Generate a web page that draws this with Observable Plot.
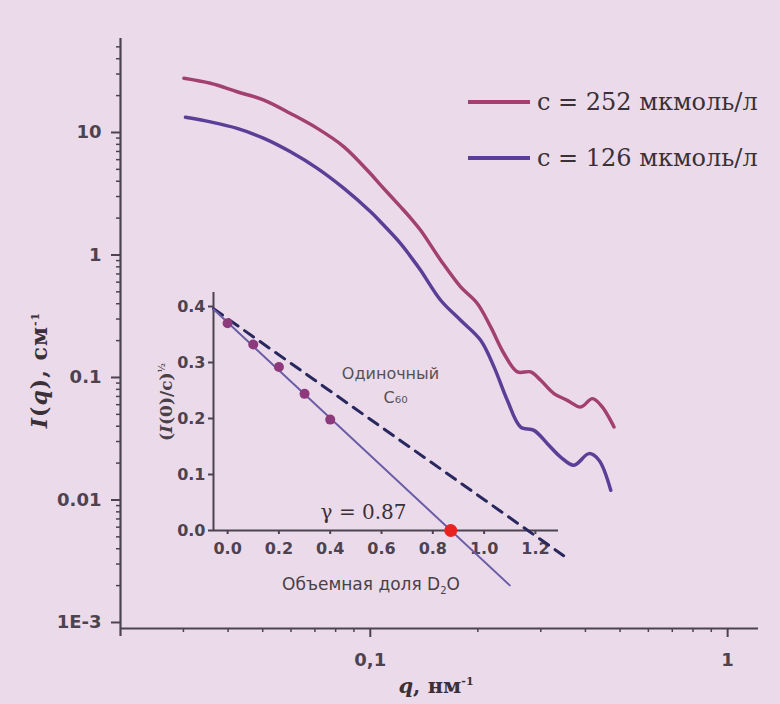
<!DOCTYPE html>
<html>
<head>
<meta charset="utf-8">
<script src="https://cdn.jsdelivr.net/npm/d3@7"></script>
<script src="https://cdn.jsdelivr.net/npm/@observablehq/plot@0.6"></script>
<style>
  html, body { margin: 0; padding: 0; background: #ebdbea; }
  #wrap { position: relative; width: 780px; height: 704px; background: #ebdbea; overflow: hidden; }
  #wrap svg { position: absolute; left: 0; top: 0; }
  .bold-ticks text { font-weight: bold; }
  .lbl { position: absolute; color: #3b3038; white-space: nowrap; }
  .legend-row { position: absolute; display: flex; align-items: center; font-family: "DejaVu Serif", serif; font-size: 24px; color: #3b3038; }
</style>
</head>
<body>
<div id="wrap"></div>
<script>
// ---- main curves: I(q) for two concentrations ----
const seriesLabels = ["c = 252 мкмоль/л", "c = 126 мкмоль/л"];
const seriesColors = ["#a2416f", "#5b3f97"];
const qUpper = [0.0301, 0.0357, 0.0424, 0.0504, 0.0598, 0.0711, 0.0844, 0.1002, 0.1069, 0.1216, 0.1297, 0.1383, 0.1574, 0.1790, 0.1993, 0.2172, 0.2366, 0.2580, 0.2811, 0.2998, 0.3266, 0.3560, 0.3880, 0.4184, 0.4462, 0.4808];
const iUpper = [27.7, 25.2, 21.5, 18.4, 14.3, 10.8, 7.64, 4.6, 3.72, 2.47, 2.0, 1.59, 0.907, 0.549, 0.402, 0.259, 0.157, 0.111, 0.111, 0.0949, 0.0739, 0.0651, 0.0574, 0.0672, 0.0574, 0.0394];
const qLower = [0.0304, 0.0357, 0.0424, 0.0504, 0.0598, 0.0711, 0.0844, 0.1002, 0.1069, 0.1216, 0.1297, 0.1383, 0.1574, 0.1790, 0.2036, 0.2219, 0.2418, 0.2635, 0.2872, 0.3131, 0.3410, 0.3715, 0.4093, 0.4365, 0.4709];
const iLower = [13.3, 12.2, 10.8, 8.95, 6.95, 5.09, 3.49, 2.25, 1.86, 1.24, 0.97, 0.751, 0.427, 0.293, 0.201, 0.122, 0.0651, 0.0394, 0.0370, 0.0288, 0.0224, 0.0192, 0.0239, 0.0211, 0.0120];

// main axes ticks
const yMajorTicks = [0.001, 0.01, 0.1, 1, 10];
const yMajorLabels = ["1E-3", "0.01", "0.1", "1", "10"];
const xMajorTicks = [0.1, 1];
const xMajorLabels = ["0,1", "1"];
const xDomain = [0.02, 1.22];
const yDomain = [0.000893, 58.5];

// ---- inset: contrast variation ----
const d2oFraction = [0.0, 0.1, 0.2, 0.3, 0.4];
const sqrtI0c = [0.370, 0.332, 0.292, 0.244, 0.198];
const matchX = [0.87];
const matchY = [0.0];
const fitSolidX = [-0.055, 1.10];
const fitSolidY = [0.395, -0.098];
const fitDashX = [-0.055, 1.31];
const fitDashY = [0.396, -0.045];
const insetYTicks = [0.0, 0.1, 0.2, 0.3, 0.4];
const insetXTicks = [0.0, 0.2, 0.4, 0.6, 0.8, 1.0, 1.2];
const insetXDomain = [-0.055, 1.29];
const insetYDomain = [0, 0.425];
const annoText = ["Одиночный", "C₆₀"];
const annoX = [0.635, 0.655];
const annoY = [0.28, 0.237];
const gammaText = ["γ = 0.87"];
const gammaX = [0.53];
const gammaY = [0.032];

const axisColor = "#4d4350";
const wrap = document.getElementById("wrap");

// minor ticks for log axes
const yMinor = [];
for (let e = -3; e <= 1; e++) for (let k = 2; k <= 9; k++) { const v = k * Math.pow(10, e); if (v < yDomain[1]) yMinor.push(v); }
const xMinor = [];
for (let e = -2; e <= -1; e++) for (let k = 2; k <= 9; k++) { const v = k * Math.pow(10, e); if (v > xDomain[0] && v < xDomain[1]) xMinor.push(v); }

const upper = qUpper.map((q, i) => ({q, I: iUpper[i]}));
const lower = qLower.map((q, i) => ({q, I: iLower[i]}));
const yLab = new Map(yMajorTicks.map((d, i) => [d, yMajorLabels[i]]));
const xLab = new Map(xMajorTicks.map((d, i) => [d, xMajorLabels[i]]));

const main = Plot.plot({
  width: 780, height: 704,
  marginLeft: 120, marginRight: 22, marginTop: 38, marginBottom: 76,
  style: {background: "transparent", fontFamily: "DejaVu Sans, sans-serif", color: axisColor},
  x: {type: "log", domain: xDomain},
  y: {type: "log", domain: yDomain},
  marks: [
    Plot.axisY(yMinor, {tickSize: 4, tickFormat: () => "", label: null, strokeWidth: 1.5, color: axisColor}),
    Plot.axisY(yMajorTicks, {tickSize: 9, tickPadding: 10, tickFormat: d => yLab.get(d), fontSize: 18, label: null, strokeWidth: 2, color: axisColor}),
    Plot.axisX(xMinor, {tickSize: 4, tickFormat: () => "", label: null, strokeWidth: 1.5, color: axisColor}),
    Plot.axisX(xMajorTicks, {tickSize: 9, tickPadding: 16, tickFormat: d => xLab.get(d), fontSize: 18, label: null, strokeWidth: 2, color: axisColor}),
    Plot.ruleX([xDomain[0]], {stroke: axisColor, strokeWidth: 2.2, insetBottom: -8}),
    Plot.ruleY([yDomain[0]], {stroke: axisColor, strokeWidth: 2.2}),
    Plot.line(upper, {x: "q", y: "I", stroke: seriesColors[0], strokeWidth: 3.5, curve: "catmull-rom"}),
    Plot.line(lower, {x: "q", y: "I", stroke: seriesColors[1], strokeWidth: 3.5, curve: "catmull-rom"})
  ]
});
main.classList.add("bold-ticks");
wrap.appendChild(main);

const pts = d2oFraction.map((x, i) => ({x, y: sqrtI0c[i]}));
const solid = fitSolidX.map((x, i) => ({x, y: fitSolidY[i]}));
const dashed = fitDashX.map((x, i) => ({x, y: fitDashY[i]}));
const match = matchX.map((x, i) => ({x, y: matchY[i]}));
const annos = annoText.map((t, i) => ({t, x: annoX[i], y: annoY[i]}));
const gam = gammaText.map((t, i) => ({t, x: gammaX[i], y: gammaY[i]}));

const inset = Plot.plot({
  width: 780, height: 704,
  marginLeft: 213, marginRight: 222, marginTop: 292, marginBottom: 174,
  style: {background: "transparent", fontFamily: "DejaVu Sans, sans-serif", color: axisColor, overflow: "visible"},
  x: {domain: insetXDomain},
  y: {domain: insetYDomain},
  marks: [
    Plot.axisY(insetYTicks, {tickSize: 5, tickPadding: 3, tickFormat: d => d.toFixed(1), fontSize: 16, label: null, strokeWidth: 2, color: axisColor}),
    Plot.axisX(insetXTicks, {tickSize: 4, tickPadding: 8, tickFormat: d => d.toFixed(1), fontSize: 16, label: null, strokeWidth: 2, color: axisColor}),
    Plot.ruleY([0], {stroke: axisColor, strokeWidth: 2}),
    Plot.ruleX([insetXDomain[0]], {stroke: axisColor, strokeWidth: 2}),
    Plot.line(dashed, {x: "x", y: "y", stroke: "#28285e", strokeWidth: 3, strokeDasharray: "11,8"}),
    Plot.line(solid, {x: "x", y: "y", stroke: "#6b5ca6", strokeWidth: 2}),
    Plot.dot(pts, {x: "x", y: "y", r: 5, fill: "#8d3a7c", stroke: "none"}),
    Plot.dot(match, {x: "x", y: "y", r: 6.5, fill: "#e8231f", stroke: "none"}),
    Plot.text(annos, {x: "x", y: "y", text: "t", fontSize: 16, fill: "#555058"}),
    Plot.text(gam, {x: "x", y: "y", text: "t", fontSize: 20, fontFamily: "DejaVu Serif, serif", fill: "#3b3038"})
  ]
});
inset.classList.add("bold-ticks");
wrap.appendChild(inset);
// annotations in inset are not bold
d3.select(inset).selectAll("g[aria-label='text'] text").style("font-weight", "normal");

// legend (HTML, overlaid top-right)
seriesLabels.forEach((lab, i) => {
  const row = document.createElement("div");
  row.className = "legend-row";
  row.style.left = "468px";
  row.style.top = (101.7 + i * 56.6 - 15) + "px";
  row.style.height = "30px";
  row.innerHTML = `<svg width="62" height="6" style="position:static;margin-right:7px"><line x1="0" y1="3" x2="62" y2="3" stroke="${seriesColors[i]}" stroke-width="4"/></svg><span>${lab}</span>`;
  wrap.appendChild(row);
});

// axis titles
function addLabel(html, x, y, css) {
  const d = document.createElement("div");
  d.className = "lbl";
  d.innerHTML = html;
  d.style.left = x + "px";
  d.style.top = y + "px";
  Object.assign(d.style, css);
  wrap.appendChild(d);
}
addLabel('<i>I</i>(<i>q</i>), см<sup style="font-size:11px">-1</sup>', 39, 370,
  {transform: "translate(-50%,-50%) rotate(-90deg)", fontFamily: "DejaVu Serif, serif", fontWeight: "bold", fontSize: "22px", letterSpacing: "1px"});
addLabel('<i>q</i>, нм<sup style="font-size:11px">-1</sup>', 436, 685,
  {transform: "translate(-50%,-50%)", fontFamily: "DejaVu Serif, serif", fontWeight: "bold", fontSize: "21px"});
addLabel('(<i>I</i>(0)/c)<sup style="font-size:9px">½</sup>', 166, 402,
  {transform: "translate(-50%,-50%) rotate(-90deg)", fontFamily: "DejaVu Serif, serif", fontWeight: "bold", fontSize: "17px", color: "#4a4048"});
addLabel('Объемная доля D<sub style="font-size:10px">2</sub>O', 371, 585,
  {transform: "translate(-50%,-50%)", fontFamily: "DejaVu Sans, sans-serif", fontSize: "17px", color: "#4a4048"});
</script>
</body>
</html>
